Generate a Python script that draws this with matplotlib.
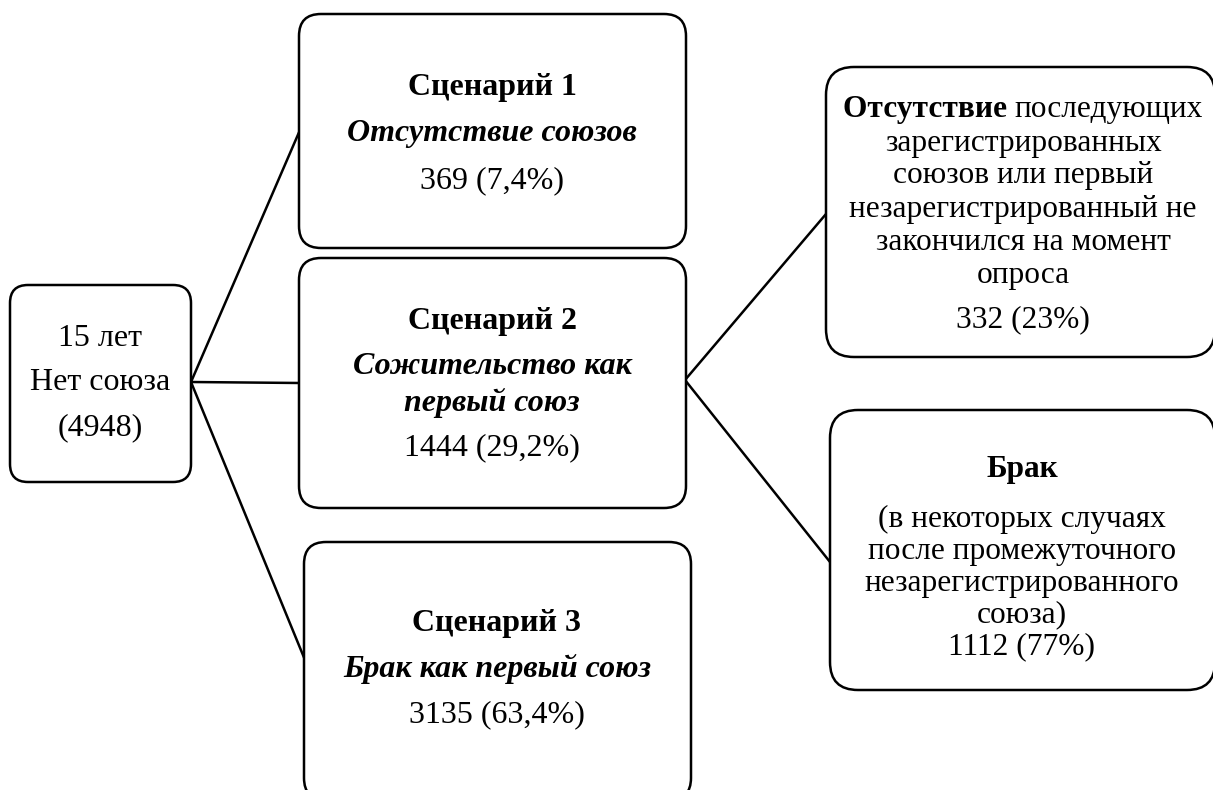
import matplotlib
matplotlib.use("Agg")
import matplotlib.pyplot as plt
from matplotlib.patches import FancyBboxPatch

plt.rcParams['font.family'] = ['Liberation Serif', 'DejaVu Serif']

# data
total = 4948
scenario_titles = ["Сценарий 1", "Сценарий 2", "Сценарий 3"]
scenario_names = ["Отсутствие союзов", "Сожительство как\nпервый союз", "Брак как первый союз"]
scenario_counts = [369, 1444, 3135]
scenario_pcts = ["7,4%", "29,2%", "63,4%"]
sub_counts = [332, 1112]
sub_pcts = ["23%", "77%"]

FS = 23
FS_R = 22.6
LW = 1.8

fig = plt.figure(figsize=(12.13, 7.90), dpi=100)
ax = fig.add_axes([0, 0, 1, 1])
ax.set_xlim(0, 1213)
ax.set_ylim(790, 0)
ax.axis('off')


def box(x0, y0, x1, y1, r=20):
    p = FancyBboxPatch((x0, y0), x1 - x0, y1 - y0,
                       boxstyle="round,pad=0,rounding_size=%d" % r,
                       fc='white', ec='black', lw=LW, zorder=2)
    ax.add_patch(p)


def line(x0, y0, x1, y1):
    ax.plot([x0, x1], [y0, y1], color='black', lw=LW, zorder=1,
            solid_capstyle='round')


def txt(x, y, s, fs=FS, **kw):
    ax.text(x, y, s, ha='center', va='center', fontsize=fs, zorder=3, **kw)


# connectors
line(191, 382, 300, 130)
line(191, 382, 300, 383)
line(191, 382, 305, 660)
line(685, 380, 826, 214)
line(685, 380, 830, 562)

# boxes
box(10, 285, 191, 482, r=18)
box(299, 14, 686, 248, r=22)
box(299, 258, 686, 508, r=22)
box(304, 542, 691, 800, r=22)
box(826, 67, 1215, 357, r=28)
box(830, 410, 1215, 690, r=28)

# start box
txt(100, 338, "15 лет")
txt(100, 383, "Нет союза")
txt(100, 428, "(%d)" % total)

# scenario boxes
txt(492, 87, scenario_titles[0], fontweight='bold')
txt(492, 134, scenario_names[0], fontweight='bold', style='italic')
txt(492, 181, "%d (%s)" % (scenario_counts[0], scenario_pcts[0]))

txt(492, 322, scenario_titles[1], fontweight='bold')
n1, n2 = scenario_names[1].split("\n")
txt(492, 367, n1, fontweight='bold', style='italic')
txt(492, 403, n2, fontweight='bold', style='italic')
txt(492, 448, "%d (%s)" % (scenario_counts[1], scenario_pcts[1]))

txt(497, 623, scenario_titles[2], fontweight='bold')
txt(497, 669, scenario_names[2], fontweight='bold', style='italic')
txt(497, 715, "%d (%s)" % (scenario_counts[2], scenario_pcts[2]))

# top right box: first line mixes bold and regular
fig.canvas.draw()
r = fig.canvas.get_renderer()
cx, cy = 1023, 110
t1 = ax.text(0, cy, "Отсутствие ", ha='left', va='center', fontsize=FS_R,
             fontweight='bold', zorder=3)
t2 = ax.text(0, cy, "последующих", ha='left', va='center', fontsize=FS_R,
             zorder=3)
w1 = t1.get_window_extent(r).width
w2 = t2.get_window_extent(r).width
x0 = cx - (w1 + w2) / 2
t1.set_x(x0)
t2.set_x(x0 + w1)

right_top = ["зарегистрированных", "союзов или первый",
             "незарегистрированный не", "закончился на момент", "опроса"]
for i, s in enumerate(right_top):
    txt(cx, 143 + i * 33, s, fs=FS_R)
txt(cx, 320, "%d (%s)" % (sub_counts[0], sub_pcts[0]), fs=FS_R)

# bottom right box
bx = 1022
txt(bx, 469, "Брак", fs=FS_R, fontweight='bold')
right_bot = ["(в некоторых случаях", "после промежуточного",
             "незарегистрированного", "союза)"]
for i, s in enumerate(right_bot):
    txt(bx, 519 + i * 32, s, fs=FS_R)
txt(bx, 647, "%d (%s)" % (sub_counts[1], sub_pcts[1]), fs=FS_R)

fig.savefig("out.png", dpi=100)
